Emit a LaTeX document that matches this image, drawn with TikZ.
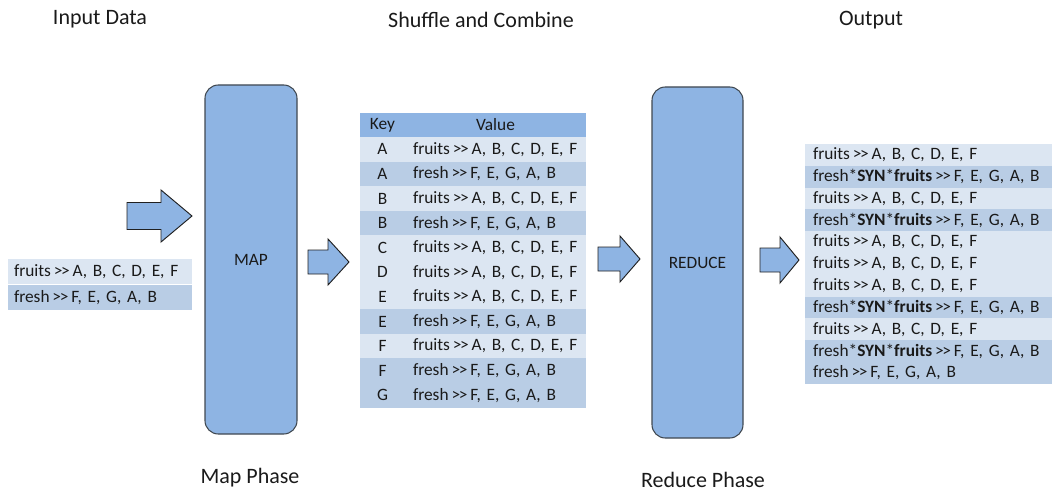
\documentclass[tikz,border=0pt]{standalone}
\usepackage{fontspec}
\setmainfont{Carlito}
\definecolor{boxblue}{HTML}{8EB4E3}
\definecolor{lite}{HTML}{DCE6F2}
\definecolor{dark}{HTML}{B9CDE5}
\definecolor{hdr}{HTML}{8EB4E3}
\definecolor{boxline}{HTML}{404850}
\definecolor{arrline}{HTML}{202020}
\definecolor{txt}{HTML}{1A1A1A}
\newcommand\dgt{\,>\kern-0.08em>\,}
\begin{document}
\begin{tikzpicture}[x=0.75pt,y=-0.75pt,
  font=\fontsize{13}{15}\selectfont, text=txt,
  title/.style={font=\fontsize{16.5}{19}\selectfont, inner sep=0pt},
  phase/.style={rounded corners=10pt, draw=boxline, line width=0.8pt, fill=boxblue},
  blockarrow/.style={draw=arrline, line width=0.7pt, fill=boxblue, line join=miter},
  keycell/.style={anchor=north west, inner sep=0pt, outer sep=0pt, minimum width=33.75pt, minimum height=18.45pt},
  valcell/.style={anchor=north west, inner xsep=6pt, inner ysep=0pt, outer sep=0pt, text width=123.75pt, align=left, minimum height=18.45pt},
  outcell/.style={anchor=north west, inner xsep=6pt, inner ysep=0pt, outer sep=0pt, text width=173.25pt, align=left, minimum height=16.35pt},
  incell/.style={anchor=north west, inner xsep=4.5pt, inner ysep=0pt, outer sep=0pt, text width=129pt, align=left, minimum height=19.1pt}
]
\useasboundingbox (0,0) rectangle (1054,492);

% titles
\node[title] (t1) at (100,19) {Input Data};
\node[title] (t2) at (481,20) {Shuffle and Combine};
\node[title] (t3) at (871,20) {Output};
\node[title] (p1) at (250,478) {Map Phase};
\node[title] (p2) at (703,480) {Reduce Phase};

% input table
\node[incell, fill=lite] (in1) at (8,259) {\mbox{fruits\dgt A, B, C, D, E, F}};
\node[incell, fill=dark] (in2) at (8,284.5) {\mbox{fresh\dgt F, E, G, A, B}};

% big input arrow
\draw[blockarrow] (127,202.5) -- (161,202.5) -- (161,190) -- (192,216) -- (161,242) -- (161,229.5) -- (127,229.5) -- cycle;

% phase boxes
\node[phase, minimum width=69pt, minimum height=261.75pt] (map) at (251,259.5) {MAP};
\node[phase, minimum width=68.25pt, minimum height=263.25pt] (reduce) at (697.5,262.5) {REDUCE};

% small arrows
\draw[blockarrow] (308,250) -- (328,250) -- (328,239) -- (349,262) -- (328,285) -- (328,274) -- (308,274) -- cycle;
\draw[blockarrow] (598,247) -- (620,247) -- (620,236) -- (640,259) -- (620,282) -- (620,271) -- (598,271) -- cycle;
\draw[blockarrow] (760,248) -- (780,248) -- (780,237) -- (799,260) -- (780,283) -- (780,272) -- (760,272) -- cycle;

% shuffle table
\node[keycell, fill=hdr] (hk) at (360,113) {Key};
\node[anchor=north west, inner sep=0pt, outer sep=0pt, minimum width=135.75pt, minimum height=18pt, fill=hdr] (hv) at (405,113) {Value};
\foreach \i/\k/\v/\c in {
  1/A/{fruits\dgt A, B, C, D, E, F}/lite,
  2/A/{fresh\dgt F, E, G, A, B}/dark,
  3/B/{fruits\dgt A, B, C, D, E, F}/lite,
  4/B/{fresh\dgt F, E, G, A, B}/dark,
  5/C/{fruits\dgt A, B, C, D, E, F}/lite,
  6/D/{fruits\dgt A, B, C, D, E, F}/lite,
  7/E/{fruits\dgt A, B, C, D, E, F}/lite,
  8/E/{fresh\dgt F, E, G, A, B}/dark,
  9/F/{fruits\dgt A, B, C, D, E, F}/lite,
  10/F/{fresh\dgt F, E, G, A, B}/dark,
  11/G/{fresh\dgt F, E, G, A, B}/dark}{
  \node[keycell, fill=\c] (k\i) at (360,{137+24.6*(\i-1)}) {\k};
  \node[valcell, fill=\c] (v\i) at (405,{137+24.6*(\i-1)}) {\mbox{\v}};
}

% output table
\foreach \i/\v/\c in {
  1/{fruits\dgt A, B, C, D, E, F}/lite,
  2/{fresh*\textbf{SYN}*\textbf{fruits}\dgt F, E, G, A, B}/dark,
  3/{fruits\dgt A, B, C, D, E, F}/lite,
  4/{fresh*\textbf{SYN}*\textbf{fruits}\dgt F, E, G, A, B}/dark,
  5/{fruits\dgt A, B, C, D, E, F}/lite,
  6/{fruits\dgt A, B, C, D, E, F}/lite,
  7/{fruits\dgt A, B, C, D, E, F}/lite,
  8/{fresh*\textbf{SYN}*\textbf{fruits}\dgt F, E, G, A, B}/dark,
  9/{fruits\dgt A, B, C, D, E, F}/lite,
  10/{fresh*\textbf{SYN}*\textbf{fruits}\dgt F, E, G, A, B}/dark,
  11/{fresh\dgt F, E, G, A, B}/dark}{
  \node[outcell, fill=\c] (o\i) at (805,{144+21.8*(\i-1)}) {\mbox{\v}};
}
\end{tikzpicture}
\end{document}
